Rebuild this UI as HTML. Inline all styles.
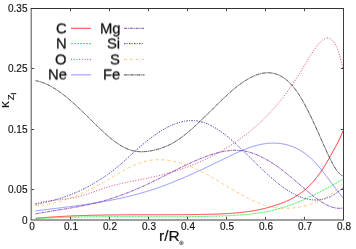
<!DOCTYPE html>
<html><head><meta charset="utf-8"><style>
html,body{margin:0;padding:0;background:#fff}
body{width:356px;height:249px;position:relative;overflow:hidden;font-family:"Liberation Sans",sans-serif;color:#111}
.t{position:absolute;white-space:nowrap;margin:0;padding:0;will-change:transform}
</style></head><body>
<svg width="356" height="249" viewBox="0 0 356 249" style="position:absolute;left:0;top:0">
<path d="M35.6,218.27 L36.6,218.19 L37.6,218.10 L38.6,218.02 L39.6,217.93 L40.6,217.85 L41.6,217.77 L42.6,217.69 L43.6,217.61 L44.6,217.54 L45.6,217.46 L46.6,217.39 L47.6,217.32 L48.6,217.24 L49.6,217.18 L50.6,217.11 L51.6,217.04 L52.6,216.97 L53.6,216.91 L54.6,216.85 L55.6,216.79 L56.6,216.73 L57.6,216.67 L58.6,216.61 L59.6,216.55 L60.6,216.50 L61.6,216.44 L62.6,216.39 L63.6,216.34 L64.6,216.29 L65.6,216.24 L66.6,216.19 L67.6,216.14 L68.6,216.09 L69.6,216.05 L70.6,216.00 L71.6,215.96 L72.6,215.92 L73.6,215.88 L74.6,215.84 L75.6,215.80 L76.6,215.76 L77.6,215.72 L78.6,215.69 L79.6,215.65 L80.6,215.62 L81.6,215.58 L82.6,215.55 L83.6,215.52 L84.6,215.49 L85.6,215.46 L86.6,215.43 L87.6,215.40 L88.6,215.38 L89.6,215.35 L90.6,215.32 L91.6,215.30 L92.6,215.27 L93.6,215.25 L94.6,215.23 L95.6,215.21 L96.6,215.19 L97.6,215.17 L98.6,215.15 L99.6,215.13 L100.6,215.11 L101.6,215.09 L102.6,215.07 L103.6,215.06 L104.6,215.04 L105.6,215.03 L106.6,215.01 L107.6,215.00 L108.6,214.99 L109.6,214.97 L110.6,214.96 L111.6,214.95 L112.6,214.94 L113.6,214.93 L114.6,214.92 L115.6,214.91 L116.6,214.90 L117.6,214.89 L118.6,214.88 L119.6,214.87 L120.6,214.87 L121.6,214.86 L122.6,214.85 L123.6,214.85 L124.6,214.84 L125.6,214.83 L126.6,214.83 L127.6,214.82 L128.6,214.82 L129.6,214.82 L130.6,214.81 L131.6,214.81 L132.6,214.80 L133.6,214.80 L134.6,214.80 L135.6,214.80 L136.6,214.79 L137.6,214.79 L138.6,214.79 L139.6,214.79 L140.6,214.78 L141.6,214.78 L142.6,214.78 L143.6,214.78 L144.6,214.78 L145.6,214.78 L146.6,214.78 L147.6,214.77 L148.6,214.77 L149.6,214.77 L150.6,214.77 L151.6,214.77 L152.6,214.77 L153.6,214.77 L154.6,214.77 L155.6,214.77 L156.6,214.76 L157.6,214.76 L158.6,214.76 L159.6,214.76 L160.6,214.76 L161.6,214.76 L162.6,214.76 L163.6,214.75 L164.6,214.75 L165.6,214.75 L166.6,214.75 L167.6,214.74 L168.6,214.74 L169.6,214.74 L170.6,214.73 L171.6,214.73 L172.6,214.73 L173.6,214.72 L174.6,214.72 L175.6,214.71 L176.6,214.71 L177.6,214.70 L178.6,214.70 L179.6,214.69 L180.6,214.68 L181.6,214.68 L182.6,214.67 L183.6,214.66 L184.6,214.65 L185.6,214.65 L186.6,214.64 L187.6,214.63 L188.6,214.62 L189.6,214.61 L190.6,214.60 L191.6,214.59 L192.6,214.57 L193.6,214.56 L194.6,214.55 L195.6,214.53 L196.6,214.52 L197.6,214.51 L198.6,214.49 L199.6,214.47 L200.6,214.46 L201.6,214.44 L202.6,214.42 L203.6,214.40 L204.6,214.38 L205.6,214.37 L206.6,214.34 L207.6,214.32 L208.6,214.30 L209.6,214.28 L210.6,214.25 L211.6,214.23 L212.6,214.20 L213.6,214.17 L214.6,214.14 L215.6,214.11 L216.6,214.08 L217.6,214.05 L218.6,214.01 L219.6,213.97 L220.6,213.93 L221.6,213.89 L222.6,213.85 L223.6,213.80 L224.6,213.75 L225.6,213.70 L226.6,213.64 L227.6,213.58 L228.6,213.52 L229.6,213.46 L230.6,213.39 L231.6,213.32 L232.6,213.25 L233.6,213.17 L234.6,213.09 L235.6,213.00 L236.6,212.91 L237.6,212.82 L238.6,212.72 L239.6,212.62 L240.6,212.52 L241.6,212.41 L242.6,212.29 L243.6,212.17 L244.6,212.05 L245.6,211.92 L246.6,211.79 L247.6,211.65 L248.6,211.51 L249.6,211.36 L250.6,211.21 L251.6,211.05 L252.6,210.88 L253.6,210.71 L254.6,210.53 L255.6,210.35 L256.6,210.16 L257.6,209.97 L258.6,209.77 L259.6,209.56 L260.6,209.35 L261.6,209.13 L262.6,208.90 L263.6,208.67 L264.6,208.43 L265.6,208.18 L266.6,207.92 L267.6,207.66 L268.6,207.39 L269.6,207.12 L270.6,206.83 L271.6,206.54 L272.6,206.24 L273.6,205.93 L274.6,205.62 L275.6,205.29 L276.6,204.96 L277.6,204.62 L278.6,204.28 L279.6,203.92 L280.6,203.55 L281.6,203.18 L282.6,202.79 L283.6,202.40 L284.6,201.99 L285.6,201.58 L286.6,201.14 L287.6,200.70 L288.6,200.24 L289.6,199.76 L290.6,199.27 L291.6,198.76 L292.6,198.23 L293.6,197.68 L294.6,197.10 L295.6,196.51 L296.6,195.90 L297.6,195.26 L298.6,194.60 L299.6,193.91 L300.6,193.20 L301.6,192.46 L302.6,191.69 L303.6,190.90 L304.6,190.07 L305.6,189.22 L306.6,188.33 L307.6,187.41 L308.6,186.46 L309.6,185.47 L310.6,184.45 L311.6,183.39 L312.6,182.29 L313.6,181.16 L314.6,179.99 L315.6,178.78 L316.6,177.53 L317.6,176.23 L318.6,174.90 L319.6,173.52 L320.6,172.10 L321.6,170.63 L322.6,169.12 L323.6,167.56 L324.6,165.96 L325.6,164.32 L326.6,162.65 L327.6,160.95 L328.6,159.22 L329.6,157.46 L330.6,155.69 L331.6,153.89 L332.6,152.09 L333.6,150.27 L334.6,148.44 L335.6,146.61 L336.6,144.77 L337.6,142.90 L338.6,140.96 L339.6,138.92 L340.6,136.74 L341.6,134.38 L342.6,131.83 L343.0,130.74" fill="none" stroke="#ff1818" stroke-width="1.0" stroke-opacity="0.85"/>
<path d="M35.6,218.84 L36.6,218.77 L37.6,218.71 L38.6,218.65 L39.6,218.58 L40.6,218.52 L41.6,218.46 L42.6,218.40 L43.6,218.35 L44.6,218.29 L45.6,218.24 L46.6,218.18 L47.6,218.13 L48.6,218.08 L49.6,218.03 L50.6,217.98 L51.6,217.93 L52.6,217.88 L53.6,217.84 L54.6,217.79 L55.6,217.75 L56.6,217.71 L57.6,217.67 L58.6,217.63 L59.6,217.59 L60.6,217.55 L61.6,217.51 L62.6,217.48 L63.6,217.44 L64.6,217.41 L65.6,217.37 L66.6,217.34 L67.6,217.31 L68.6,217.28 L69.6,217.25 L70.6,217.22 L71.6,217.20 L72.6,217.17 L73.6,217.14 L74.6,217.12 L75.6,217.09 L76.6,217.07 L77.6,217.05 L78.6,217.03 L79.6,217.00 L80.6,216.98 L81.6,216.97 L82.6,216.95 L83.6,216.93 L84.6,216.91 L85.6,216.90 L86.6,216.88 L87.6,216.86 L88.6,216.85 L89.6,216.84 L90.6,216.82 L91.6,216.81 L92.6,216.80 L93.6,216.79 L94.6,216.78 L95.6,216.77 L96.6,216.76 L97.6,216.75 L98.6,216.74 L99.6,216.73 L100.6,216.73 L101.6,216.72 L102.6,216.71 L103.6,216.71 L104.6,216.70 L105.6,216.70 L106.6,216.69 L107.6,216.69 L108.6,216.69 L109.6,216.68 L110.6,216.68 L111.6,216.68 L112.6,216.68 L113.6,216.67 L114.6,216.67 L115.6,216.67 L116.6,216.67 L117.6,216.67 L118.6,216.67 L119.6,216.67 L120.6,216.67 L121.6,216.67 L122.6,216.68 L123.6,216.68 L124.6,216.68 L125.6,216.68 L126.6,216.68 L127.6,216.69 L128.6,216.69 L129.6,216.69 L130.6,216.69 L131.6,216.70 L132.6,216.70 L133.6,216.70 L134.6,216.71 L135.6,216.71 L136.6,216.71 L137.6,216.72 L138.6,216.72 L139.6,216.72 L140.6,216.73 L141.6,216.73 L142.6,216.73 L143.6,216.74 L144.6,216.74 L145.6,216.75 L146.6,216.75 L147.6,216.75 L148.6,216.76 L149.6,216.76 L150.6,216.76 L151.6,216.77 L152.6,216.77 L153.6,216.77 L154.6,216.77 L155.6,216.78 L156.6,216.78 L157.6,216.78 L158.6,216.78 L159.6,216.78 L160.6,216.79 L161.6,216.79 L162.6,216.79 L163.6,216.79 L164.6,216.79 L165.6,216.79 L166.6,216.79 L167.6,216.79 L168.6,216.79 L169.6,216.79 L170.6,216.79 L171.6,216.78 L172.6,216.78 L173.6,216.78 L174.6,216.78 L175.6,216.77 L176.6,216.77 L177.6,216.76 L178.6,216.76 L179.6,216.76 L180.6,216.75 L181.6,216.74 L182.6,216.74 L183.6,216.73 L184.6,216.72 L185.6,216.71 L186.6,216.70 L187.6,216.70 L188.6,216.69 L189.6,216.68 L190.6,216.66 L191.6,216.65 L192.6,216.64 L193.6,216.63 L194.6,216.61 L195.6,216.60 L196.6,216.58 L197.6,216.57 L198.6,216.55 L199.6,216.54 L200.6,216.52 L201.6,216.50 L202.6,216.48 L203.6,216.46 L204.6,216.44 L205.6,216.42 L206.6,216.40 L207.6,216.37 L208.6,216.35 L209.6,216.32 L210.6,216.30 L211.6,216.27 L212.6,216.24 L213.6,216.21 L214.6,216.19 L215.6,216.16 L216.6,216.12 L217.6,216.09 L218.6,216.06 L219.6,216.03 L220.6,215.99 L221.6,215.95 L222.6,215.92 L223.6,215.88 L224.6,215.84 L225.6,215.80 L226.6,215.76 L227.6,215.72 L228.6,215.67 L229.6,215.63 L230.6,215.58 L231.6,215.53 L232.6,215.48 L233.6,215.42 L234.6,215.37 L235.6,215.31 L236.6,215.25 L237.6,215.18 L238.6,215.12 L239.6,215.05 L240.6,214.98 L241.6,214.90 L242.6,214.82 L243.6,214.74 L244.6,214.66 L245.6,214.57 L246.6,214.48 L247.6,214.38 L248.6,214.28 L249.6,214.18 L250.6,214.07 L251.6,213.95 L252.6,213.84 L253.6,213.72 L254.6,213.59 L255.6,213.46 L256.6,213.32 L257.6,213.18 L258.6,213.03 L259.6,212.88 L260.6,212.72 L261.6,212.56 L262.6,212.39 L263.6,212.22 L264.6,212.04 L265.6,211.85 L266.6,211.66 L267.6,211.46 L268.6,211.26 L269.6,211.05 L270.6,210.83 L271.6,210.60 L272.6,210.37 L273.6,210.13 L274.6,209.89 L275.6,209.63 L276.6,209.37 L277.6,209.10 L278.6,208.83 L279.6,208.55 L280.6,208.26 L281.6,207.96 L282.6,207.66 L283.6,207.35 L284.6,207.03 L285.6,206.70 L286.6,206.37 L287.6,206.04 L288.6,205.69 L289.6,205.34 L290.6,204.98 L291.6,204.62 L292.6,204.25 L293.6,203.87 L294.6,203.49 L295.6,203.10 L296.6,202.71 L297.6,202.31 L298.6,201.90 L299.6,201.49 L300.6,201.07 L301.6,200.64 L302.6,200.21 L303.6,199.78 L304.6,199.34 L305.6,198.89 L306.6,198.44 L307.6,197.98 L308.6,197.52 L309.6,197.05 L310.6,196.58 L311.6,196.10 L312.6,195.61 L313.6,195.13 L314.6,194.63 L315.6,194.14 L316.6,193.63 L317.6,193.13 L318.6,192.62 L319.6,192.11 L320.6,191.59 L321.6,191.07 L322.6,190.55 L323.6,190.02 L324.6,189.49 L325.6,188.96 L326.6,188.42 L327.6,187.89 L328.6,187.35 L329.6,186.81 L330.6,186.26 L331.6,185.72 L332.6,185.17 L333.6,184.62 L334.6,184.08 L335.6,183.53 L336.6,182.98 L337.6,182.42 L338.6,181.87 L339.6,181.32 L340.6,180.77 L341.6,180.22 L342.6,179.66 L343.0,179.44" fill="none" stroke="#10f030" stroke-width="1.0" stroke-opacity="0.9" stroke-dasharray="2 1"/>
<path d="M35.6,203.63 L36.6,203.33 L37.6,203.05 L38.6,202.79 L39.6,202.54 L40.6,202.30 L41.6,202.09 L42.6,201.88 L43.6,201.69 L44.6,201.51 L45.6,201.34 L46.6,201.19 L47.6,201.04 L48.6,200.90 L49.6,200.77 L50.6,200.65 L51.6,200.53 L52.6,200.42 L53.6,200.31 L54.6,200.21 L55.6,200.10 L56.6,200.01 L57.6,199.91 L58.6,199.81 L59.6,199.71 L60.6,199.61 L61.6,199.51 L62.6,199.40 L63.6,199.29 L64.6,199.18 L65.6,199.06 L66.6,198.93 L67.6,198.79 L68.6,198.65 L69.6,198.50 L70.6,198.33 L71.6,198.16 L72.6,197.98 L73.6,197.78 L74.6,197.57 L75.6,197.34 L76.6,197.10 L77.6,196.86 L78.6,196.60 L79.6,196.33 L80.6,196.05 L81.6,195.76 L82.6,195.46 L83.6,195.16 L84.6,194.85 L85.6,194.53 L86.6,194.21 L87.6,193.88 L88.6,193.54 L89.6,193.20 L90.6,192.86 L91.6,192.51 L92.6,192.17 L93.6,191.82 L94.6,191.47 L95.6,191.12 L96.6,190.77 L97.6,190.42 L98.6,190.07 L99.6,189.72 L100.6,189.38 L101.6,189.04 L102.6,188.70 L103.6,188.37 L104.6,188.04 L105.6,187.72 L106.6,187.41 L107.6,187.10 L108.6,186.80 L109.6,186.50 L110.6,186.22 L111.6,185.94 L112.6,185.66 L113.6,185.39 L114.6,185.13 L115.6,184.87 L116.6,184.62 L117.6,184.37 L118.6,184.13 L119.6,183.89 L120.6,183.66 L121.6,183.43 L122.6,183.20 L123.6,182.98 L124.6,182.76 L125.6,182.54 L126.6,182.33 L127.6,182.12 L128.6,181.91 L129.6,181.71 L130.6,181.50 L131.6,181.30 L132.6,181.10 L133.6,180.91 L134.6,180.71 L135.6,180.51 L136.6,180.32 L137.6,180.12 L138.6,179.93 L139.6,179.73 L140.6,179.54 L141.6,179.34 L142.6,179.15 L143.6,178.95 L144.6,178.75 L145.6,178.55 L146.6,178.35 L147.6,178.15 L148.6,177.94 L149.6,177.73 L150.6,177.52 L151.6,177.31 L152.6,177.10 L153.6,176.88 L154.6,176.66 L155.6,176.43 L156.6,176.20 L157.6,175.97 L158.6,175.73 L159.6,175.49 L160.6,175.24 L161.6,174.99 L162.6,174.74 L163.6,174.48 L164.6,174.22 L165.6,173.96 L166.6,173.69 L167.6,173.41 L168.6,173.13 L169.6,172.85 L170.6,172.56 L171.6,172.27 L172.6,171.97 L173.6,171.67 L174.6,171.37 L175.6,171.05 L176.6,170.74 L177.6,170.42 L178.6,170.09 L179.6,169.76 L180.6,169.43 L181.6,169.09 L182.6,168.74 L183.6,168.39 L184.6,168.04 L185.6,167.68 L186.6,167.31 L187.6,166.94 L188.6,166.57 L189.6,166.18 L190.6,165.80 L191.6,165.40 L192.6,165.01 L193.6,164.60 L194.6,164.19 L195.6,163.78 L196.6,163.36 L197.6,162.93 L198.6,162.50 L199.6,162.06 L200.6,161.62 L201.6,161.17 L202.6,160.72 L203.6,160.25 L204.6,159.79 L205.6,159.31 L206.6,158.83 L207.6,158.35 L208.6,157.86 L209.6,157.36 L210.6,156.85 L211.6,156.34 L212.6,155.82 L213.6,155.30 L214.6,154.77 L215.6,154.23 L216.6,153.69 L217.6,153.14 L218.6,152.58 L219.6,152.02 L220.6,151.44 L221.6,150.87 L222.6,150.28 L223.6,149.69 L224.6,149.09 L225.6,148.49 L226.6,147.87 L227.6,147.25 L228.6,146.63 L229.6,145.99 L230.6,145.35 L231.6,144.70 L232.6,144.05 L233.6,143.38 L234.6,142.71 L235.6,142.03 L236.6,141.35 L237.6,140.65 L238.6,139.95 L239.6,139.24 L240.6,138.53 L241.6,137.80 L242.6,137.07 L243.6,136.32 L244.6,135.57 L245.6,134.81 L246.6,134.03 L247.6,133.25 L248.6,132.46 L249.6,131.66 L250.6,130.85 L251.6,130.02 L252.6,129.19 L253.6,128.35 L254.6,127.49 L255.6,126.62 L256.6,125.74 L257.6,124.85 L258.6,123.94 L259.6,123.03 L260.6,122.10 L261.6,121.16 L262.6,120.20 L263.6,119.23 L264.6,118.25 L265.6,117.25 L266.6,116.24 L267.6,115.21 L268.6,114.18 L269.6,113.12 L270.6,112.05 L271.6,110.97 L272.6,109.87 L273.6,108.75 L274.6,107.62 L275.6,106.47 L276.6,105.30 L277.6,104.12 L278.6,102.93 L279.6,101.71 L280.6,100.48 L281.6,99.23 L282.6,97.96 L283.6,96.67 L284.6,95.37 L285.6,94.05 L286.6,92.71 L287.6,91.35 L288.6,89.97 L289.6,88.57 L290.6,87.15 L291.6,85.71 L292.6,84.26 L293.6,82.78 L294.6,81.28 L295.6,79.76 L296.6,78.22 L297.6,76.66 L298.6,75.08 L299.6,73.47 L300.6,71.85 L301.6,70.20 L302.6,68.53 L303.6,66.85 L304.6,65.17 L305.6,63.48 L306.6,61.80 L307.6,60.12 L308.6,58.46 L309.6,56.82 L310.6,55.21 L311.6,53.63 L312.6,52.09 L313.6,50.58 L314.6,49.13 L315.6,47.73 L316.6,46.39 L317.6,45.11 L318.6,43.91 L319.6,42.78 L320.6,41.73 L321.6,40.79 L322.6,39.96 L323.6,39.25 L324.6,38.67 L325.6,38.25 L326.6,37.99 L327.6,37.90 L328.6,38.00 L329.6,38.29 L330.6,38.80 L331.6,39.53 L332.6,40.51 L333.6,41.75 L334.6,43.25 L335.6,45.05 L336.6,47.14 L337.6,49.55 L338.6,52.30 L339.6,55.38 L340.6,58.83 L341.6,62.65 L342.6,66.87 L343.0,68.67" fill="none" stroke="#dc2850" stroke-width="1.0" stroke-opacity="0.9" stroke-dasharray="1 1.7"/>
<path d="M35.6,210.87 L36.6,210.74 L37.6,210.62 L38.6,210.49 L39.6,210.37 L40.6,210.25 L41.6,210.12 L42.6,210.00 L43.6,209.88 L44.6,209.76 L45.6,209.64 L46.6,209.51 L47.6,209.39 L48.6,209.27 L49.6,209.15 L50.6,209.03 L51.6,208.91 L52.6,208.78 L53.6,208.66 L54.6,208.54 L55.6,208.42 L56.6,208.30 L57.6,208.17 L58.6,208.05 L59.6,207.93 L60.6,207.80 L61.6,207.68 L62.6,207.56 L63.6,207.43 L64.6,207.31 L65.6,207.18 L66.6,207.05 L67.6,206.92 L68.6,206.80 L69.6,206.67 L70.6,206.54 L71.6,206.41 L72.6,206.28 L73.6,206.14 L74.6,206.01 L75.6,205.88 L76.6,205.74 L77.6,205.61 L78.6,205.47 L79.6,205.33 L80.6,205.19 L81.6,205.05 L82.6,204.91 L83.6,204.76 L84.6,204.62 L85.6,204.47 L86.6,204.33 L87.6,204.18 L88.6,204.03 L89.6,203.88 L90.6,203.72 L91.6,203.57 L92.6,203.41 L93.6,203.25 L94.6,203.09 L95.6,202.93 L96.6,202.77 L97.6,202.60 L98.6,202.44 L99.6,202.27 L100.6,202.10 L101.6,201.92 L102.6,201.75 L103.6,201.57 L104.6,201.39 L105.6,201.21 L106.6,201.03 L107.6,200.84 L108.6,200.66 L109.6,200.47 L110.6,200.27 L111.6,200.08 L112.6,199.88 L113.6,199.68 L114.6,199.48 L115.6,199.28 L116.6,199.07 L117.6,198.86 L118.6,198.65 L119.6,198.43 L120.6,198.22 L121.6,198.00 L122.6,197.77 L123.6,197.55 L124.6,197.32 L125.6,197.09 L126.6,196.85 L127.6,196.62 L128.6,196.38 L129.6,196.13 L130.6,195.89 L131.6,195.64 L132.6,195.38 L133.6,195.13 L134.6,194.87 L135.6,194.61 L136.6,194.34 L137.6,194.07 L138.6,193.80 L139.6,193.52 L140.6,193.24 L141.6,192.96 L142.6,192.67 L143.6,192.38 L144.6,192.09 L145.6,191.79 L146.6,191.49 L147.6,191.19 L148.6,190.88 L149.6,190.57 L150.6,190.25 L151.6,189.93 L152.6,189.61 L153.6,189.28 L154.6,188.95 L155.6,188.61 L156.6,188.27 L157.6,187.93 L158.6,187.58 L159.6,187.23 L160.6,186.87 L161.6,186.51 L162.6,186.15 L163.6,185.78 L164.6,185.41 L165.6,185.04 L166.6,184.66 L167.6,184.28 L168.6,183.89 L169.6,183.51 L170.6,183.11 L171.6,182.72 L172.6,182.32 L173.6,181.92 L174.6,181.52 L175.6,181.11 L176.6,180.70 L177.6,180.29 L178.6,179.87 L179.6,179.45 L180.6,179.03 L181.6,178.61 L182.6,178.18 L183.6,177.75 L184.6,177.32 L185.6,176.89 L186.6,176.45 L187.6,176.01 L188.6,175.57 L189.6,175.13 L190.6,174.68 L191.6,174.23 L192.6,173.78 L193.6,173.33 L194.6,172.88 L195.6,172.42 L196.6,171.96 L197.6,171.50 L198.6,171.04 L199.6,170.57 L200.6,170.11 L201.6,169.64 L202.6,169.17 L203.6,168.70 L204.6,168.23 L205.6,167.76 L206.6,167.28 L207.6,166.81 L208.6,166.33 L209.6,165.85 L210.6,165.37 L211.6,164.89 L212.6,164.41 L213.6,163.93 L214.6,163.44 L215.6,162.96 L216.6,162.47 L217.6,161.99 L218.6,161.50 L219.6,161.01 L220.6,160.52 L221.6,160.04 L222.6,159.55 L223.6,159.06 L224.6,158.57 L225.6,158.08 L226.6,157.59 L227.6,157.10 L228.6,156.62 L229.6,156.13 L230.6,155.65 L231.6,155.17 L232.6,154.70 L233.6,154.23 L234.6,153.76 L235.6,153.30 L236.6,152.85 L237.6,152.39 L238.6,151.95 L239.6,151.51 L240.6,151.08 L241.6,150.65 L242.6,150.23 L243.6,149.82 L244.6,149.42 L245.6,149.03 L246.6,148.65 L247.6,148.27 L248.6,147.91 L249.6,147.56 L250.6,147.21 L251.6,146.88 L252.6,146.56 L253.6,146.26 L254.6,145.96 L255.6,145.68 L256.6,145.41 L257.6,145.15 L258.6,144.91 L259.6,144.68 L260.6,144.47 L261.6,144.27 L262.6,144.09 L263.6,143.92 L264.6,143.76 L265.6,143.63 L266.6,143.50 L267.6,143.40 L268.6,143.31 L269.6,143.23 L270.6,143.18 L271.6,143.14 L272.6,143.11 L273.6,143.11 L274.6,143.12 L275.6,143.15 L276.6,143.20 L277.6,143.27 L278.6,143.35 L279.6,143.46 L280.6,143.58 L281.6,143.73 L282.6,143.89 L283.6,144.07 L284.6,144.28 L285.6,144.50 L286.6,144.74 L287.6,145.01 L288.6,145.30 L289.6,145.61 L290.6,145.94 L291.6,146.29 L292.6,146.66 L293.6,147.06 L294.6,147.49 L295.6,147.94 L296.6,148.41 L297.6,148.91 L298.6,149.43 L299.6,149.99 L300.6,150.57 L301.6,151.17 L302.6,151.81 L303.6,152.48 L304.6,153.17 L305.6,153.90 L306.6,154.66 L307.6,155.45 L308.6,156.27 L309.6,157.12 L310.6,158.00 L311.6,158.92 L312.6,159.88 L313.6,160.87 L314.6,161.89 L315.6,162.95 L316.6,164.05 L317.6,165.17 L318.6,166.33 L319.6,167.52 L320.6,168.73 L321.6,169.96 L322.6,171.22 L323.6,172.50 L324.6,173.79 L325.6,175.10 L326.6,176.42 L327.6,177.75 L328.6,179.09 L329.6,180.44 L330.6,181.79 L331.6,183.14 L332.6,184.49 L333.6,185.83 L334.6,187.18 L335.6,188.51 L336.6,189.84 L337.6,191.15 L338.6,192.45 L339.6,193.73 L340.6,195.00 L341.6,196.24 L342.6,197.47 L343.0,197.95" fill="none" stroke="#6868ff" stroke-width="0.9" stroke-opacity="0.8"/>
<path d="M35.6,213.81 L36.6,213.63 L37.6,213.45 L38.6,213.27 L39.6,213.10 L40.6,212.93 L41.6,212.76 L42.6,212.59 L43.6,212.42 L44.6,212.25 L45.6,212.08 L46.6,211.92 L47.6,211.76 L48.6,211.59 L49.6,211.43 L50.6,211.27 L51.6,211.11 L52.6,210.95 L53.6,210.79 L54.6,210.63 L55.6,210.47 L56.6,210.32 L57.6,210.16 L58.6,210.00 L59.6,209.84 L60.6,209.68 L61.6,209.52 L62.6,209.36 L63.6,209.20 L64.6,209.03 L65.6,208.87 L66.6,208.70 L67.6,208.54 L68.6,208.37 L69.6,208.20 L70.6,208.03 L71.6,207.86 L72.6,207.69 L73.6,207.51 L74.6,207.34 L75.6,207.16 L76.6,206.98 L77.6,206.79 L78.6,206.60 L79.6,206.42 L80.6,206.22 L81.6,206.03 L82.6,205.83 L83.6,205.63 L84.6,205.43 L85.6,205.22 L86.6,205.01 L87.6,204.80 L88.6,204.58 L89.6,204.36 L90.6,204.14 L91.6,203.91 L92.6,203.68 L93.6,203.44 L94.6,203.20 L95.6,202.96 L96.6,202.71 L97.6,202.46 L98.6,202.20 L99.6,201.94 L100.6,201.67 L101.6,201.40 L102.6,201.12 L103.6,200.84 L104.6,200.56 L105.6,200.27 L106.6,199.97 L107.6,199.67 L108.6,199.37 L109.6,199.06 L110.6,198.75 L111.6,198.43 L112.6,198.11 L113.6,197.79 L114.6,197.46 L115.6,197.12 L116.6,196.78 L117.6,196.44 L118.6,196.09 L119.6,195.74 L120.6,195.38 L121.6,195.02 L122.6,194.66 L123.6,194.29 L124.6,193.92 L125.6,193.54 L126.6,193.16 L127.6,192.77 L128.6,192.38 L129.6,191.98 L130.6,191.59 L131.6,191.18 L132.6,190.77 L133.6,190.36 L134.6,189.95 L135.6,189.53 L136.6,189.10 L137.6,188.67 L138.6,188.24 L139.6,187.80 L140.6,187.36 L141.6,186.92 L142.6,186.47 L143.6,186.02 L144.6,185.56 L145.6,185.10 L146.6,184.63 L147.6,184.16 L148.6,183.69 L149.6,183.21 L150.6,182.73 L151.6,182.24 L152.6,181.76 L153.6,181.27 L154.6,180.77 L155.6,180.28 L156.6,179.78 L157.6,179.28 L158.6,178.78 L159.6,178.27 L160.6,177.77 L161.6,177.26 L162.6,176.75 L163.6,176.25 L164.6,175.74 L165.6,175.23 L166.6,174.72 L167.6,174.20 L168.6,173.69 L169.6,173.18 L170.6,172.67 L171.6,172.16 L172.6,171.66 L173.6,171.15 L174.6,170.64 L175.6,170.14 L176.6,169.63 L177.6,169.13 L178.6,168.63 L179.6,168.13 L180.6,167.64 L181.6,167.15 L182.6,166.66 L183.6,166.17 L184.6,165.69 L185.6,165.21 L186.6,164.73 L187.6,164.26 L188.6,163.79 L189.6,163.33 L190.6,162.87 L191.6,162.41 L192.6,161.96 L193.6,161.51 L194.6,161.07 L195.6,160.64 L196.6,160.21 L197.6,159.78 L198.6,159.37 L199.6,158.95 L200.6,158.55 L201.6,158.15 L202.6,157.76 L203.6,157.37 L204.6,156.99 L205.6,156.62 L206.6,156.26 L207.6,155.90 L208.6,155.56 L209.6,155.22 L210.6,154.89 L211.6,154.56 L212.6,154.25 L213.6,153.94 L214.6,153.65 L215.6,153.36 L216.6,153.09 L217.6,152.82 L218.6,152.57 L219.6,152.32 L220.6,152.09 L221.6,151.87 L222.6,151.66 L223.6,151.46 L224.6,151.28 L225.6,151.11 L226.6,150.96 L227.6,150.82 L228.6,150.69 L229.6,150.58 L230.6,150.49 L231.6,150.41 L232.6,150.35 L233.6,150.31 L234.6,150.28 L235.6,150.27 L236.6,150.28 L237.6,150.31 L238.6,150.35 L239.6,150.42 L240.6,150.50 L241.6,150.61 L242.6,150.73 L243.6,150.88 L244.6,151.05 L245.6,151.24 L246.6,151.45 L247.6,151.69 L248.6,151.95 L249.6,152.23 L250.6,152.53 L251.6,152.85 L252.6,153.19 L253.6,153.55 L254.6,153.93 L255.6,154.33 L256.6,154.74 L257.6,155.17 L258.6,155.62 L259.6,156.08 L260.6,156.56 L261.6,157.05 L262.6,157.56 L263.6,158.08 L264.6,158.61 L265.6,159.15 L266.6,159.71 L267.6,160.27 L268.6,160.85 L269.6,161.45 L270.6,162.05 L271.6,162.67 L272.6,163.30 L273.6,163.94 L274.6,164.60 L275.6,165.27 L276.6,165.95 L277.6,166.65 L278.6,167.36 L279.6,168.08 L280.6,168.81 L281.6,169.56 L282.6,170.32 L283.6,171.10 L284.6,171.88 L285.6,172.68 L286.6,173.48 L287.6,174.29 L288.6,175.12 L289.6,175.95 L290.6,176.78 L291.6,177.63 L292.6,178.47 L293.6,179.33 L294.6,180.18 L295.6,181.04 L296.6,181.91 L297.6,182.77 L298.6,183.64 L299.6,184.50 L300.6,185.37 L301.6,186.23 L302.6,187.09 L303.6,187.95 L304.6,188.81 L305.6,189.66 L306.6,190.51 L307.6,191.35 L308.6,192.18 L309.6,193.01 L310.6,193.83 L311.6,194.64 L312.6,195.45 L313.6,196.24 L314.6,197.01 L315.6,197.78 L316.6,198.53 L317.6,199.26 L318.6,199.97 L319.6,200.66 L320.6,201.34 L321.6,201.99 L322.6,202.61 L323.6,203.21 L324.6,203.79 L325.6,204.34 L326.6,204.85 L327.6,205.34 L328.6,205.80 L329.6,206.22 L330.6,206.60 L331.6,206.96 L332.6,207.27 L333.6,207.54 L334.6,207.78 L335.6,207.97 L336.6,208.12 L337.6,208.23 L338.6,208.29 L339.6,208.30 L340.6,208.27 L341.6,208.18 L342.6,208.05 L343.0,207.98" fill="none" stroke="#7030b0" stroke-width="0.95" stroke-opacity="0.2"/>
<path d="M35.6,213.81 L36.6,213.63 L37.6,213.45 L38.6,213.27 L39.6,213.10 L40.6,212.93 L41.6,212.76 L42.6,212.59 L43.6,212.42 L44.6,212.25 L45.6,212.08 L46.6,211.92 L47.6,211.76 L48.6,211.59 L49.6,211.43 L50.6,211.27 L51.6,211.11 L52.6,210.95 L53.6,210.79 L54.6,210.63 L55.6,210.47 L56.6,210.32 L57.6,210.16 L58.6,210.00 L59.6,209.84 L60.6,209.68 L61.6,209.52 L62.6,209.36 L63.6,209.20 L64.6,209.03 L65.6,208.87 L66.6,208.70 L67.6,208.54 L68.6,208.37 L69.6,208.20 L70.6,208.03 L71.6,207.86 L72.6,207.69 L73.6,207.51 L74.6,207.34 L75.6,207.16 L76.6,206.98 L77.6,206.79 L78.6,206.60 L79.6,206.42 L80.6,206.22 L81.6,206.03 L82.6,205.83 L83.6,205.63 L84.6,205.43 L85.6,205.22 L86.6,205.01 L87.6,204.80 L88.6,204.58 L89.6,204.36 L90.6,204.14 L91.6,203.91 L92.6,203.68 L93.6,203.44 L94.6,203.20 L95.6,202.96 L96.6,202.71 L97.6,202.46 L98.6,202.20 L99.6,201.94 L100.6,201.67 L101.6,201.40 L102.6,201.12 L103.6,200.84 L104.6,200.56 L105.6,200.27 L106.6,199.97 L107.6,199.67 L108.6,199.37 L109.6,199.06 L110.6,198.75 L111.6,198.43 L112.6,198.11 L113.6,197.79 L114.6,197.46 L115.6,197.12 L116.6,196.78 L117.6,196.44 L118.6,196.09 L119.6,195.74 L120.6,195.38 L121.6,195.02 L122.6,194.66 L123.6,194.29 L124.6,193.92 L125.6,193.54 L126.6,193.16 L127.6,192.77 L128.6,192.38 L129.6,191.98 L130.6,191.59 L131.6,191.18 L132.6,190.77 L133.6,190.36 L134.6,189.95 L135.6,189.53 L136.6,189.10 L137.6,188.67 L138.6,188.24 L139.6,187.80 L140.6,187.36 L141.6,186.92 L142.6,186.47 L143.6,186.02 L144.6,185.56 L145.6,185.10 L146.6,184.63 L147.6,184.16 L148.6,183.69 L149.6,183.21 L150.6,182.73 L151.6,182.24 L152.6,181.76 L153.6,181.27 L154.6,180.77 L155.6,180.28 L156.6,179.78 L157.6,179.28 L158.6,178.78 L159.6,178.27 L160.6,177.77 L161.6,177.26 L162.6,176.75 L163.6,176.25 L164.6,175.74 L165.6,175.23 L166.6,174.72 L167.6,174.20 L168.6,173.69 L169.6,173.18 L170.6,172.67 L171.6,172.16 L172.6,171.66 L173.6,171.15 L174.6,170.64 L175.6,170.14 L176.6,169.63 L177.6,169.13 L178.6,168.63 L179.6,168.13 L180.6,167.64 L181.6,167.15 L182.6,166.66 L183.6,166.17 L184.6,165.69 L185.6,165.21 L186.6,164.73 L187.6,164.26 L188.6,163.79 L189.6,163.33 L190.6,162.87 L191.6,162.41 L192.6,161.96 L193.6,161.51 L194.6,161.07 L195.6,160.64 L196.6,160.21 L197.6,159.78 L198.6,159.37 L199.6,158.95 L200.6,158.55 L201.6,158.15 L202.6,157.76 L203.6,157.37 L204.6,156.99 L205.6,156.62 L206.6,156.26 L207.6,155.90 L208.6,155.56 L209.6,155.22 L210.6,154.89 L211.6,154.56 L212.6,154.25 L213.6,153.94 L214.6,153.65 L215.6,153.36 L216.6,153.09 L217.6,152.82 L218.6,152.57 L219.6,152.32 L220.6,152.09 L221.6,151.87 L222.6,151.66 L223.6,151.46 L224.6,151.28 L225.6,151.11 L226.6,150.96 L227.6,150.82 L228.6,150.69 L229.6,150.58 L230.6,150.49 L231.6,150.41 L232.6,150.35 L233.6,150.31 L234.6,150.28 L235.6,150.27 L236.6,150.28 L237.6,150.31 L238.6,150.35 L239.6,150.42 L240.6,150.50 L241.6,150.61 L242.6,150.73 L243.6,150.88 L244.6,151.05 L245.6,151.24 L246.6,151.45 L247.6,151.69 L248.6,151.95 L249.6,152.23 L250.6,152.53 L251.6,152.85 L252.6,153.19 L253.6,153.55 L254.6,153.93 L255.6,154.33 L256.6,154.74 L257.6,155.17 L258.6,155.62 L259.6,156.08 L260.6,156.56 L261.6,157.05 L262.6,157.56 L263.6,158.08 L264.6,158.61 L265.6,159.15 L266.6,159.71 L267.6,160.27 L268.6,160.85 L269.6,161.45 L270.6,162.05 L271.6,162.67 L272.6,163.30 L273.6,163.94 L274.6,164.60 L275.6,165.27 L276.6,165.95 L277.6,166.65 L278.6,167.36 L279.6,168.08 L280.6,168.81 L281.6,169.56 L282.6,170.32 L283.6,171.10 L284.6,171.88 L285.6,172.68 L286.6,173.48 L287.6,174.29 L288.6,175.12 L289.6,175.95 L290.6,176.78 L291.6,177.63 L292.6,178.47 L293.6,179.33 L294.6,180.18 L295.6,181.04 L296.6,181.91 L297.6,182.77 L298.6,183.64 L299.6,184.50 L300.6,185.37 L301.6,186.23 L302.6,187.09 L303.6,187.95 L304.6,188.81 L305.6,189.66 L306.6,190.51 L307.6,191.35 L308.6,192.18 L309.6,193.01 L310.6,193.83 L311.6,194.64 L312.6,195.45 L313.6,196.24 L314.6,197.01 L315.6,197.78 L316.6,198.53 L317.6,199.26 L318.6,199.97 L319.6,200.66 L320.6,201.34 L321.6,201.99 L322.6,202.61 L323.6,203.21 L324.6,203.79 L325.6,204.34 L326.6,204.85 L327.6,205.34 L328.6,205.80 L329.6,206.22 L330.6,206.60 L331.6,206.96 L332.6,207.27 L333.6,207.54 L334.6,207.78 L335.6,207.97 L336.6,208.12 L337.6,208.23 L338.6,208.29 L339.6,208.30 L340.6,208.27 L341.6,208.18 L342.6,208.05 L343.0,207.98" fill="none" stroke="#7030b0" stroke-width="0.95" stroke-opacity="0.85" stroke-dasharray="3 1 0.8 1"/>
<path d="M35.6,204.23 L36.6,204.06 L37.6,203.87 L38.6,203.69 L39.6,203.50 L40.6,203.30 L41.6,203.10 L42.6,202.89 L43.6,202.68 L44.6,202.46 L45.6,202.24 L46.6,202.01 L47.6,201.78 L48.6,201.54 L49.6,201.29 L50.6,201.04 L51.6,200.78 L52.6,200.52 L53.6,200.25 L54.6,199.98 L55.6,199.69 L56.6,199.41 L57.6,199.11 L58.6,198.81 L59.6,198.50 L60.6,198.19 L61.6,197.87 L62.6,197.54 L63.6,197.21 L64.6,196.87 L65.6,196.52 L66.6,196.16 L67.6,195.80 L68.6,195.43 L69.6,195.05 L70.6,194.67 L71.6,194.28 L72.6,193.88 L73.6,193.47 L74.6,193.06 L75.6,192.63 L76.6,192.20 L77.6,191.76 L78.6,191.32 L79.6,190.86 L80.6,190.40 L81.6,189.93 L82.6,189.45 L83.6,188.96 L84.6,188.46 L85.6,187.95 L86.6,187.44 L87.6,186.92 L88.6,186.38 L89.6,185.84 L90.6,185.29 L91.6,184.73 L92.6,184.17 L93.6,183.59 L94.6,183.00 L95.6,182.40 L96.6,181.80 L97.6,181.18 L98.6,180.56 L99.6,179.92 L100.6,179.28 L101.6,178.62 L102.6,177.96 L103.6,177.28 L104.6,176.60 L105.6,175.91 L106.6,175.20 L107.6,174.49 L108.6,173.76 L109.6,173.02 L110.6,172.28 L111.6,171.52 L112.6,170.75 L113.6,169.97 L114.6,169.18 L115.6,168.38 L116.6,167.57 L117.6,166.75 L118.6,165.92 L119.6,165.07 L120.6,164.22 L121.6,163.35 L122.6,162.47 L123.6,161.59 L124.6,160.69 L125.6,159.79 L126.6,158.89 L127.6,157.98 L128.6,157.06 L129.6,156.15 L130.6,155.23 L131.6,154.32 L132.6,153.40 L133.6,152.49 L134.6,151.58 L135.6,150.68 L136.6,149.78 L137.6,148.89 L138.6,148.01 L139.6,147.14 L140.6,146.27 L141.6,145.42 L142.6,144.57 L143.6,143.73 L144.6,142.90 L145.6,142.08 L146.6,141.27 L147.6,140.47 L148.6,139.68 L149.6,138.90 L150.6,138.14 L151.6,137.38 L152.6,136.64 L153.6,135.91 L154.6,135.20 L155.6,134.49 L156.6,133.80 L157.6,133.13 L158.6,132.46 L159.6,131.81 L160.6,131.18 L161.6,130.56 L162.6,129.96 L163.6,129.37 L164.6,128.80 L165.6,128.24 L166.6,127.71 L167.6,127.18 L168.6,126.68 L169.6,126.19 L170.6,125.73 L171.6,125.27 L172.6,124.84 L173.6,124.43 L174.6,124.04 L175.6,123.66 L176.6,123.31 L177.6,122.97 L178.6,122.66 L179.6,122.37 L180.6,122.10 L181.6,121.85 L182.6,121.62 L183.6,121.41 L184.6,121.23 L185.6,121.07 L186.6,120.93 L187.6,120.82 L188.6,120.73 L189.6,120.66 L190.6,120.62 L191.6,120.60 L192.6,120.61 L193.6,120.65 L194.6,120.71 L195.6,120.79 L196.6,120.90 L197.6,121.04 L198.6,121.21 L199.6,121.40 L200.6,121.62 L201.6,121.87 L202.6,122.15 L203.6,122.45 L204.6,122.79 L205.6,123.15 L206.6,123.53 L207.6,123.95 L208.6,124.38 L209.6,124.84 L210.6,125.33 L211.6,125.84 L212.6,126.37 L213.6,126.93 L214.6,127.50 L215.6,128.10 L216.6,128.72 L217.6,129.36 L218.6,130.01 L219.6,130.69 L220.6,131.39 L221.6,132.10 L222.6,132.83 L223.6,133.58 L224.6,134.34 L225.6,135.12 L226.6,135.91 L227.6,136.72 L228.6,137.55 L229.6,138.38 L230.6,139.23 L231.6,140.09 L232.6,140.96 L233.6,141.84 L234.6,142.74 L235.6,143.64 L236.6,144.55 L237.6,145.48 L238.6,146.41 L239.6,147.34 L240.6,148.29 L241.6,149.24 L242.6,150.19 L243.6,151.16 L244.6,152.12 L245.6,153.09 L246.6,154.07 L247.6,155.05 L248.6,156.03 L249.6,157.01 L250.6,157.99 L251.6,158.98 L252.6,159.96 L253.6,160.95 L254.6,161.93 L255.6,162.91 L256.6,163.89 L257.6,164.87 L258.6,165.85 L259.6,166.82 L260.6,167.78 L261.6,168.74 L262.6,169.70 L263.6,170.65 L264.6,171.59 L265.6,172.53 L266.6,173.46 L267.6,174.38 L268.6,175.29 L269.6,176.19 L270.6,177.08 L271.6,177.97 L272.6,178.84 L273.6,179.70 L274.6,180.54 L275.6,181.38 L276.6,182.20 L277.6,183.01 L278.6,183.80 L279.6,184.58 L280.6,185.35 L281.6,186.10 L282.6,186.84 L283.6,187.56 L284.6,188.26 L285.6,188.95 L286.6,189.62 L287.6,190.28 L288.6,190.92 L289.6,191.53 L290.6,192.13 L291.6,192.72 L292.6,193.28 L293.6,193.82 L294.6,194.34 L295.6,194.85 L296.6,195.33 L297.6,195.79 L298.6,196.23 L299.6,196.64 L300.6,197.04 L301.6,197.41 L302.6,197.76 L303.6,198.08 L304.6,198.38 L305.6,198.66 L306.6,198.91 L307.6,199.13 L308.6,199.33 L309.6,199.51 L310.6,199.66 L311.6,199.78 L312.6,199.87 L313.6,199.94 L314.6,199.98 L315.6,199.99 L316.6,199.97 L317.6,199.92 L318.6,199.84 L319.6,199.73 L320.6,199.59 L321.6,199.42 L322.6,199.22 L323.6,198.99 L324.6,198.73 L325.6,198.43 L326.6,198.10 L327.6,197.74 L328.6,197.34 L329.6,196.91 L330.6,196.45 L331.6,195.95 L332.6,195.41 L333.6,194.84 L334.6,194.23 L335.6,193.59 L336.6,192.91 L337.6,192.19 L338.6,191.44 L339.6,190.65 L340.6,189.81 L341.6,188.94 L342.6,188.03 L343.0,187.66" fill="none" stroke="#2424a0" stroke-width="0.95" stroke-opacity="1.0" stroke-dasharray="1.5 1.2 0.9 1.4"/>
<path d="M35.6,205.76 L36.6,205.69 L37.6,205.61 L38.6,205.51 L39.6,205.41 L40.6,205.30 L41.6,205.18 L42.6,205.05 L43.6,204.91 L44.6,204.76 L45.6,204.60 L46.6,204.43 L47.6,204.26 L48.6,204.07 L49.6,203.87 L50.6,203.67 L51.6,203.46 L52.6,203.23 L53.6,203.00 L54.6,202.76 L55.6,202.52 L56.6,202.26 L57.6,201.99 L58.6,201.72 L59.6,201.44 L60.6,201.15 L61.6,200.85 L62.6,200.55 L63.6,200.24 L64.6,199.91 L65.6,199.59 L66.6,199.25 L67.6,198.91 L68.6,198.56 L69.6,198.20 L70.6,197.83 L71.6,197.46 L72.6,197.08 L73.6,196.69 L74.6,196.30 L75.6,195.90 L76.6,195.49 L77.6,195.07 L78.6,194.65 L79.6,194.23 L80.6,193.79 L81.6,193.35 L82.6,192.90 L83.6,192.45 L84.6,191.99 L85.6,191.53 L86.6,191.06 L87.6,190.58 L88.6,190.10 L89.6,189.61 L90.6,189.11 L91.6,188.61 L92.6,188.11 L93.6,187.60 L94.6,187.08 L95.6,186.56 L96.6,186.04 L97.6,185.51 L98.6,184.97 L99.6,184.43 L100.6,183.88 L101.6,183.33 L102.6,182.78 L103.6,182.22 L104.6,181.66 L105.6,181.10 L106.6,180.53 L107.6,179.96 L108.6,179.39 L109.6,178.81 L110.6,178.23 L111.6,177.65 L112.6,177.07 L113.6,176.49 L114.6,175.90 L115.6,175.32 L116.6,174.73 L117.6,174.14 L118.6,173.55 L119.6,172.97 L120.6,172.38 L121.6,171.80 L122.6,171.22 L123.6,170.64 L124.6,170.08 L125.6,169.51 L126.6,168.96 L127.6,168.42 L128.6,167.88 L129.6,167.36 L130.6,166.85 L131.6,166.35 L132.6,165.87 L133.6,165.40 L134.6,164.95 L135.6,164.52 L136.6,164.10 L137.6,163.70 L138.6,163.33 L139.6,162.97 L140.6,162.63 L141.6,162.32 L142.6,162.02 L143.6,161.74 L144.6,161.48 L145.6,161.24 L146.6,161.01 L147.6,160.81 L148.6,160.62 L149.6,160.45 L150.6,160.30 L151.6,160.17 L152.6,160.06 L153.6,159.96 L154.6,159.88 L155.6,159.81 L156.6,159.76 L157.6,159.73 L158.6,159.72 L159.6,159.72 L160.6,159.74 L161.6,159.77 L162.6,159.82 L163.6,159.88 L164.6,159.96 L165.6,160.05 L166.6,160.16 L167.6,160.28 L168.6,160.42 L169.6,160.57 L170.6,160.74 L171.6,160.91 L172.6,161.11 L173.6,161.31 L174.6,161.53 L175.6,161.76 L176.6,162.01 L177.6,162.27 L178.6,162.54 L179.6,162.82 L180.6,163.11 L181.6,163.42 L182.6,163.74 L183.6,164.07 L184.6,164.41 L185.6,164.76 L186.6,165.12 L187.6,165.50 L188.6,165.88 L189.6,166.28 L190.6,166.68 L191.6,167.10 L192.6,167.52 L193.6,167.96 L194.6,168.40 L195.6,168.85 L196.6,169.31 L197.6,169.79 L198.6,170.27 L199.6,170.75 L200.6,171.25 L201.6,171.75 L202.6,172.27 L203.6,172.79 L204.6,173.31 L205.6,173.85 L206.6,174.39 L207.6,174.93 L208.6,175.49 L209.6,176.04 L210.6,176.61 L211.6,177.18 L212.6,177.75 L213.6,178.32 L214.6,178.90 L215.6,179.49 L216.6,180.08 L217.6,180.66 L218.6,181.26 L219.6,181.85 L220.6,182.45 L221.6,183.04 L222.6,183.64 L223.6,184.24 L224.6,184.84 L225.6,185.44 L226.6,186.04 L227.6,186.63 L228.6,187.23 L229.6,187.82 L230.6,188.42 L231.6,189.01 L232.6,189.60 L233.6,190.18 L234.6,190.77 L235.6,191.35 L236.6,191.92 L237.6,192.49 L238.6,193.06 L239.6,193.62 L240.6,194.17 L241.6,194.73 L242.6,195.27 L243.6,195.81 L244.6,196.34 L245.6,196.86 L246.6,197.38 L247.6,197.89 L248.6,198.39 L249.6,198.88 L250.6,199.37 L251.6,199.84 L252.6,200.31 L253.6,200.77 L254.6,201.21 L255.6,201.65 L256.6,202.07 L257.6,202.48 L258.6,202.89 L259.6,203.27 L260.6,203.65 L261.6,204.02 L262.6,204.37 L263.6,204.71 L264.6,205.03 L265.6,205.34 L266.6,205.64 L267.6,205.92 L268.6,206.19 L269.6,206.44 L270.6,206.68 L271.6,206.90 L272.6,207.10 L273.6,207.29 L274.6,207.46 L275.6,207.62 L276.6,207.76 L277.6,207.88 L278.6,208.00 L279.6,208.09 L280.6,208.17 L281.6,208.24 L282.6,208.29 L283.6,208.32 L284.6,208.35 L285.6,208.35 L286.6,208.35 L287.6,208.32 L288.6,208.29 L289.6,208.24 L290.6,208.17 L291.6,208.10 L292.6,208.00 L293.6,207.90 L294.6,207.78 L295.6,207.65 L296.6,207.50 L297.6,207.34 L298.6,207.17 L299.6,206.99 L300.6,206.79 L301.6,206.58 L302.6,206.36 L303.6,206.12 L304.6,205.87 L305.6,205.61 L306.6,205.34 L307.6,205.06 L308.6,204.76 L309.6,204.45 L310.6,204.13 L311.6,203.80 L312.6,203.45 L313.6,203.09 L314.6,202.72 L315.6,202.33 L316.6,201.93 L317.6,201.51 L318.6,201.08 L319.6,200.63 L320.6,200.16 L321.6,199.67 L322.6,199.16 L323.6,198.63 L324.6,198.08 L325.6,197.51 L326.6,196.92 L327.6,196.31 L328.6,195.67 L329.6,195.01 L330.6,194.32 L331.6,193.61 L332.6,192.87 L333.6,192.10 L334.6,191.31 L335.6,190.49 L336.6,189.64 L337.6,188.76 L338.6,187.85 L339.6,186.91 L340.6,185.93 L341.6,184.93 L342.6,183.89 L343.0,183.47" fill="none" stroke="#ffa826" stroke-width="0.95" stroke-opacity="0.95" stroke-dasharray="1.1 0.7 1.1 3.0"/>
<path d="M35.5,80.68 L36.5,80.86 L37.5,81.07 L38.5,81.31 L39.5,81.57 L40.5,81.87 L41.5,82.18 L42.5,82.53 L43.5,82.89 L44.5,83.29 L45.5,83.70 L46.5,84.15 L47.5,84.61 L48.5,85.10 L49.5,85.60 L50.5,86.13 L51.5,86.69 L52.5,87.26 L53.5,87.85 L54.5,88.46 L55.5,89.09 L56.5,89.74 L57.5,90.41 L58.5,91.10 L59.5,91.80 L60.5,92.52 L61.5,93.26 L62.5,94.01 L63.5,94.78 L64.5,95.56 L65.5,96.35 L66.5,97.17 L67.5,97.99 L68.5,98.83 L69.5,99.67 L70.5,100.54 L71.5,101.41 L72.5,102.29 L73.5,103.19 L74.5,104.09 L75.5,105.00 L76.5,105.92 L77.5,106.85 L78.5,107.79 L79.5,108.74 L80.5,109.69 L81.5,110.65 L82.5,111.62 L83.5,112.59 L84.5,113.56 L85.5,114.55 L86.5,115.53 L87.5,116.52 L88.5,117.51 L89.5,118.50 L90.5,119.49 L91.5,120.48 L92.5,121.47 L93.5,122.46 L94.5,123.45 L95.5,124.43 L96.5,125.41 L97.5,126.38 L98.5,127.35 L99.5,128.30 L100.5,129.26 L101.5,130.20 L102.5,131.13 L103.5,132.06 L104.5,132.97 L105.5,133.87 L106.5,134.76 L107.5,135.63 L108.5,136.49 L109.5,137.34 L110.5,138.16 L111.5,138.97 L112.5,139.77 L113.5,140.54 L114.5,141.30 L115.5,142.03 L116.5,142.75 L117.5,143.44 L118.5,144.11 L119.5,144.76 L120.5,145.38 L121.5,145.97 L122.5,146.54 L123.5,147.09 L124.5,147.60 L125.5,148.09 L126.5,148.55 L127.5,148.97 L128.5,149.37 L129.5,149.73 L130.5,150.07 L131.5,150.36 L132.5,150.63 L133.5,150.87 L134.5,151.07 L135.5,151.25 L136.5,151.39 L137.5,151.51 L138.5,151.61 L139.5,151.67 L140.5,151.71 L141.5,151.73 L142.5,151.72 L143.5,151.69 L144.5,151.63 L145.5,151.56 L146.5,151.46 L147.5,151.35 L148.5,151.21 L149.5,151.06 L150.5,150.89 L151.5,150.70 L152.5,150.50 L153.5,150.28 L154.5,150.05 L155.5,149.81 L156.5,149.55 L157.5,149.28 L158.5,148.99 L159.5,148.69 L160.5,148.38 L161.5,148.05 L162.5,147.70 L163.5,147.34 L164.5,146.95 L165.5,146.55 L166.5,146.13 L167.5,145.70 L168.5,145.24 L169.5,144.76 L170.5,144.26 L171.5,143.74 L172.5,143.19 L173.5,142.62 L174.5,142.04 L175.5,141.42 L176.5,140.79 L177.5,140.14 L178.5,139.47 L179.5,138.78 L180.5,138.07 L181.5,137.34 L182.5,136.60 L183.5,135.84 L184.5,135.06 L185.5,134.27 L186.5,133.46 L187.5,132.64 L188.5,131.80 L189.5,130.95 L190.5,130.09 L191.5,129.21 L192.5,128.33 L193.5,127.43 L194.5,126.52 L195.5,125.61 L196.5,124.68 L197.5,123.75 L198.5,122.80 L199.5,121.85 L200.5,120.90 L201.5,119.94 L202.5,118.97 L203.5,117.99 L204.5,117.02 L205.5,116.03 L206.5,115.05 L207.5,114.06 L208.5,113.07 L209.5,112.08 L210.5,111.09 L211.5,110.10 L212.5,109.11 L213.5,108.12 L214.5,107.13 L215.5,106.14 L216.5,105.16 L217.5,104.17 L218.5,103.20 L219.5,102.22 L220.5,101.26 L221.5,100.29 L222.5,99.34 L223.5,98.39 L224.5,97.45 L225.5,96.52 L226.5,95.59 L227.5,94.68 L228.5,93.77 L229.5,92.88 L230.5,91.99 L231.5,91.12 L232.5,90.26 L233.5,89.42 L234.5,88.59 L235.5,87.77 L236.5,86.97 L237.5,86.18 L238.5,85.41 L239.5,84.65 L240.5,83.91 L241.5,83.19 L242.5,82.49 L243.5,81.81 L244.5,81.15 L245.5,80.51 L246.5,79.88 L247.5,79.28 L248.5,78.71 L249.5,78.15 L250.5,77.62 L251.5,77.11 L252.5,76.63 L253.5,76.17 L254.5,75.74 L255.5,75.33 L256.5,74.95 L257.5,74.60 L258.5,74.28 L259.5,73.99 L260.5,73.72 L261.5,73.49 L262.5,73.28 L263.5,73.11 L264.5,72.97 L265.5,72.87 L266.5,72.80 L267.5,72.76 L268.5,72.76 L269.5,72.80 L270.5,72.87 L271.5,72.99 L272.5,73.14 L273.5,73.34 L274.5,73.57 L275.5,73.85 L276.5,74.17 L277.5,74.54 L278.5,74.95 L279.5,75.40 L280.5,75.91 L281.5,76.46 L282.5,77.06 L283.5,77.70 L284.5,78.40 L285.5,79.15 L286.5,79.95 L287.5,80.80 L288.5,81.71 L289.5,82.67 L290.5,83.68 L291.5,84.76 L292.5,85.88 L293.5,87.07 L294.5,88.32 L295.5,89.62 L296.5,90.99 L297.5,92.41 L298.5,93.90 L299.5,95.45 L300.5,97.06 L301.5,98.73 L302.5,100.46 L303.5,102.23 L304.5,104.06 L305.5,105.93 L306.5,107.85 L307.5,109.80 L308.5,111.80 L309.5,113.83 L310.5,115.89 L311.5,117.99 L312.5,120.11 L313.5,122.25 L314.5,124.42 L315.5,126.61 L316.5,128.82 L317.5,131.03 L318.5,133.26 L319.5,135.50 L320.5,137.74 L321.5,139.99 L322.5,142.24 L323.5,144.48 L324.5,146.72 L325.5,148.95 L326.5,151.16 L327.5,153.34 L328.5,155.49 L329.5,157.59 L330.5,159.63 L331.5,161.60 L332.5,163.49 L333.5,165.29 L334.5,166.99 L335.5,168.58 L336.5,170.05 L337.5,171.39 L338.5,172.59 L339.5,173.64 L340.5,174.52 L341.5,175.24 L342.5,175.77 L343.0,175.96" fill="none" stroke="#303030" stroke-width="0.85" stroke-opacity="0.4"/>
<path d="M35.5,80.68 L36.5,80.86 L37.5,81.07 L38.5,81.31 L39.5,81.57 L40.5,81.87 L41.5,82.18 L42.5,82.53 L43.5,82.89 L44.5,83.29 L45.5,83.70 L46.5,84.15 L47.5,84.61 L48.5,85.10 L49.5,85.60 L50.5,86.13 L51.5,86.69 L52.5,87.26 L53.5,87.85 L54.5,88.46 L55.5,89.09 L56.5,89.74 L57.5,90.41 L58.5,91.10 L59.5,91.80 L60.5,92.52 L61.5,93.26 L62.5,94.01 L63.5,94.78 L64.5,95.56 L65.5,96.35 L66.5,97.17 L67.5,97.99 L68.5,98.83 L69.5,99.67 L70.5,100.54 L71.5,101.41 L72.5,102.29 L73.5,103.19 L74.5,104.09 L75.5,105.00 L76.5,105.92 L77.5,106.85 L78.5,107.79 L79.5,108.74 L80.5,109.69 L81.5,110.65 L82.5,111.62 L83.5,112.59 L84.5,113.56 L85.5,114.55 L86.5,115.53 L87.5,116.52 L88.5,117.51 L89.5,118.50 L90.5,119.49 L91.5,120.48 L92.5,121.47 L93.5,122.46 L94.5,123.45 L95.5,124.43 L96.5,125.41 L97.5,126.38 L98.5,127.35 L99.5,128.30 L100.5,129.26 L101.5,130.20 L102.5,131.13 L103.5,132.06 L104.5,132.97 L105.5,133.87 L106.5,134.76 L107.5,135.63 L108.5,136.49 L109.5,137.34 L110.5,138.16 L111.5,138.97 L112.5,139.77 L113.5,140.54 L114.5,141.30 L115.5,142.03 L116.5,142.75 L117.5,143.44 L118.5,144.11 L119.5,144.76 L120.5,145.38 L121.5,145.97 L122.5,146.54 L123.5,147.09 L124.5,147.60 L125.5,148.09 L126.5,148.55 L127.5,148.97 L128.5,149.37 L129.5,149.73 L130.5,150.07 L131.5,150.36 L132.5,150.63 L133.5,150.87 L134.5,151.07 L135.5,151.25 L136.5,151.39 L137.5,151.51 L138.5,151.61 L139.5,151.67 L140.5,151.71 L141.5,151.73 L142.5,151.72 L143.5,151.69 L144.5,151.63 L145.5,151.56 L146.5,151.46 L147.5,151.35 L148.5,151.21 L149.5,151.06 L150.5,150.89 L151.5,150.70 L152.5,150.50 L153.5,150.28 L154.5,150.05 L155.5,149.81 L156.5,149.55 L157.5,149.28 L158.5,148.99 L159.5,148.69 L160.5,148.38 L161.5,148.05 L162.5,147.70 L163.5,147.34 L164.5,146.95 L165.5,146.55 L166.5,146.13 L167.5,145.70 L168.5,145.24 L169.5,144.76 L170.5,144.26 L171.5,143.74 L172.5,143.19 L173.5,142.62 L174.5,142.04 L175.5,141.42 L176.5,140.79 L177.5,140.14 L178.5,139.47 L179.5,138.78 L180.5,138.07 L181.5,137.34 L182.5,136.60 L183.5,135.84 L184.5,135.06 L185.5,134.27 L186.5,133.46 L187.5,132.64 L188.5,131.80 L189.5,130.95 L190.5,130.09 L191.5,129.21 L192.5,128.33 L193.5,127.43 L194.5,126.52 L195.5,125.61 L196.5,124.68 L197.5,123.75 L198.5,122.80 L199.5,121.85 L200.5,120.90 L201.5,119.94 L202.5,118.97 L203.5,117.99 L204.5,117.02 L205.5,116.03 L206.5,115.05 L207.5,114.06 L208.5,113.07 L209.5,112.08 L210.5,111.09 L211.5,110.10 L212.5,109.11 L213.5,108.12 L214.5,107.13 L215.5,106.14 L216.5,105.16 L217.5,104.17 L218.5,103.20 L219.5,102.22 L220.5,101.26 L221.5,100.29 L222.5,99.34 L223.5,98.39 L224.5,97.45 L225.5,96.52 L226.5,95.59 L227.5,94.68 L228.5,93.77 L229.5,92.88 L230.5,91.99 L231.5,91.12 L232.5,90.26 L233.5,89.42 L234.5,88.59 L235.5,87.77 L236.5,86.97 L237.5,86.18 L238.5,85.41 L239.5,84.65 L240.5,83.91 L241.5,83.19 L242.5,82.49 L243.5,81.81 L244.5,81.15 L245.5,80.51 L246.5,79.88 L247.5,79.28 L248.5,78.71 L249.5,78.15 L250.5,77.62 L251.5,77.11 L252.5,76.63 L253.5,76.17 L254.5,75.74 L255.5,75.33 L256.5,74.95 L257.5,74.60 L258.5,74.28 L259.5,73.99 L260.5,73.72 L261.5,73.49 L262.5,73.28 L263.5,73.11 L264.5,72.97 L265.5,72.87 L266.5,72.80 L267.5,72.76 L268.5,72.76 L269.5,72.80 L270.5,72.87 L271.5,72.99 L272.5,73.14 L273.5,73.34 L274.5,73.57 L275.5,73.85 L276.5,74.17 L277.5,74.54 L278.5,74.95 L279.5,75.40 L280.5,75.91 L281.5,76.46 L282.5,77.06 L283.5,77.70 L284.5,78.40 L285.5,79.15 L286.5,79.95 L287.5,80.80 L288.5,81.71 L289.5,82.67 L290.5,83.68 L291.5,84.76 L292.5,85.88 L293.5,87.07 L294.5,88.32 L295.5,89.62 L296.5,90.99 L297.5,92.41 L298.5,93.90 L299.5,95.45 L300.5,97.06 L301.5,98.73 L302.5,100.46 L303.5,102.23 L304.5,104.06 L305.5,105.93 L306.5,107.85 L307.5,109.80 L308.5,111.80 L309.5,113.83 L310.5,115.89 L311.5,117.99 L312.5,120.11 L313.5,122.25 L314.5,124.42 L315.5,126.61 L316.5,128.82 L317.5,131.03 L318.5,133.26 L319.5,135.50 L320.5,137.74 L321.5,139.99 L322.5,142.24 L323.5,144.48 L324.5,146.72 L325.5,148.95 L326.5,151.16 L327.5,153.34 L328.5,155.49 L329.5,157.59 L330.5,159.63 L331.5,161.60 L332.5,163.49 L333.5,165.29 L334.5,166.99 L335.5,168.58 L336.5,170.05 L337.5,171.39 L338.5,172.59 L339.5,173.64 L340.5,174.52 L341.5,175.24 L342.5,175.77 L343.0,175.96" fill="none" stroke="#303030" stroke-width="0.85" stroke-opacity="0.8" stroke-dasharray="3.5 1 0.8 1"/>
<path d="M71,28.3 L91,28.3" fill="none" stroke="#ff1818" stroke-width="1.0" stroke-opacity="0.85"/>
<path d="M71,43.6 L91,43.6" fill="none" stroke="#10f030" stroke-width="1.0" stroke-opacity="0.9" stroke-dasharray="2 1"/>
<path d="M71,59.4 L91,59.4" fill="none" stroke="#dc2850" stroke-width="1.0" stroke-opacity="0.9" stroke-dasharray="1 1.7"/>
<path d="M71,74.9 L91,74.9" fill="none" stroke="#6868ff" stroke-width="0.9" stroke-opacity="0.8"/>
<path d="M124,28.3 L144,28.3" fill="none" stroke="#7030b0" stroke-width="0.95" stroke-opacity="0.2"/>
<path d="M124,28.3 L144,28.3" fill="none" stroke="#7030b0" stroke-width="0.95" stroke-opacity="0.85" stroke-dasharray="3 1 0.8 1"/>
<path d="M124,43.6 L144,43.6" fill="none" stroke="#2424a0" stroke-width="0.95" stroke-opacity="1.0" stroke-dasharray="1.5 1.2 0.9 1.4"/>
<path d="M124,59.4 L144,59.4" fill="none" stroke="#ffa826" stroke-width="0.95" stroke-opacity="0.95" stroke-dasharray="1.1 0.7 1.1 3.0"/>
<path d="M124,74.9 L144.5,74.9" fill="none" stroke="#303030" stroke-width="0.85" stroke-opacity="0.4"/>
<path d="M124,74.9 L144.5,74.9" fill="none" stroke="#303030" stroke-width="0.85" stroke-opacity="0.8" stroke-dasharray="3.5 1 0.8 1"/>
<path d="M31.2,8.0 V220.0" stroke="#505050" stroke-width="1" fill="none"/>
<path d="M30.7,8.5 H344.0" stroke="#333" stroke-width="1" fill="none"/>
<path d="M30.7,219.9 H344.0" stroke="#404040" stroke-width="1.05" fill="none"/>
<path d="M343.5,8.0 V220.0" stroke="#3c3c3c" stroke-width="1" fill="none"/>
<path d="M70.5,219.5 v-2.7 M70.5,8.5 v2.7 M109.5,219.5 v-2.7 M109.5,8.5 v2.7 M148.5,219.5 v-2.7 M148.5,8.5 v2.7 M187.5,219.5 v-2.7 M187.5,8.5 v2.7 M226.5,219.5 v-2.7 M226.5,8.5 v2.7 M265.5,219.5 v-2.7 M265.5,8.5 v2.7 M304.5,219.5 v-2.7 M304.5,8.5 v2.7 M31.5,189.5 h2.7 M343.5,189.5 h-2.7 M31.5,129.5 h2.7 M343.5,129.5 h-2.7 M31.5,68.5 h2.7 M343.5,68.5 h-2.7" fill="none" stroke="#444" stroke-width="1"/>
<circle cx="181.4" cy="242.9" r="1.9" fill="#ddd" stroke="#777" stroke-width="0.8"/><circle cx="181.4" cy="242.9" r="0.9" fill="#555"/>
</svg>
<div class="t" style="right:328.6px;top:3.15px;font-size:10px;line-height:11.49px;-webkit-text-stroke:0.15px #111;">0.35</div>
<div class="t" style="right:328.6px;top:63.15px;font-size:10px;line-height:11.49px;-webkit-text-stroke:0.15px #111;">0.25</div>
<div class="t" style="right:328.6px;top:123.65px;font-size:10px;line-height:11.49px;-webkit-text-stroke:0.15px #111;">0.15</div>
<div class="t" style="right:328.6px;top:183.65px;font-size:10px;line-height:11.49px;-webkit-text-stroke:0.15px #111;">0.05</div>
<div class="t" style="right:328.6px;top:214.65px;font-size:10px;line-height:11.49px;-webkit-text-stroke:0.15px #111;">0</div>
<div class="t" style="left:12.299999999999997px;width:40px;text-align:center;top:220.85px;font-size:10px;line-height:11.49px;-webkit-text-stroke:0.15px #111">0</div>
<div class="t" style="left:51.3px;width:40px;text-align:center;top:220.85px;font-size:10px;line-height:11.49px;-webkit-text-stroke:0.15px #111">0.1</div>
<div class="t" style="left:90.3px;width:40px;text-align:center;top:220.85px;font-size:10px;line-height:11.49px;-webkit-text-stroke:0.15px #111">0.2</div>
<div class="t" style="left:129.3px;width:40px;text-align:center;top:220.85px;font-size:10px;line-height:11.49px;-webkit-text-stroke:0.15px #111">0.3</div>
<div class="t" style="left:168.3px;width:40px;text-align:center;top:220.85px;font-size:10px;line-height:11.49px;-webkit-text-stroke:0.15px #111">0.4</div>
<div class="t" style="left:207.3px;width:40px;text-align:center;top:220.85px;font-size:10px;line-height:11.49px;-webkit-text-stroke:0.15px #111">0.5</div>
<div class="t" style="left:246.3px;width:40px;text-align:center;top:220.85px;font-size:10px;line-height:11.49px;-webkit-text-stroke:0.15px #111">0.6</div>
<div class="t" style="left:285.3px;width:40px;text-align:center;top:220.85px;font-size:10px;line-height:11.49px;-webkit-text-stroke:0.15px #111">0.7</div>
<div class="t" style="left:324.3px;width:40px;text-align:center;top:220.85px;font-size:10px;line-height:11.49px;-webkit-text-stroke:0.15px #111">0.8</div>
<div class="t" style="right:289.2px;top:19.71px;font-size:14.8px;line-height:17.01px;transform-origin:0 13.39px;transform:rotate(0.03deg) scaleY(1.04);-webkit-text-stroke:0.25px #111;">C</div>
<div class="t" style="right:289.2px;top:35.01px;font-size:14.8px;line-height:17.01px;transform-origin:0 13.39px;transform:rotate(0.03deg) scaleY(1.04);-webkit-text-stroke:0.25px #111;">N</div>
<div class="t" style="right:289.2px;top:50.81px;font-size:14.8px;line-height:17.01px;transform-origin:0 13.39px;transform:rotate(0.03deg) scaleY(1.04);-webkit-text-stroke:0.25px #111;">O</div>
<div class="t" style="right:289.2px;top:66.31px;font-size:14.8px;line-height:17.01px;transform-origin:0 13.39px;transform:rotate(0.03deg) scaleY(1.04);-webkit-text-stroke:0.25px #111;">Ne</div>
<div class="t" style="right:235.8px;top:19.71px;font-size:14.8px;line-height:17.01px;transform-origin:0 13.39px;transform:rotate(0.03deg) scaleY(1.04);-webkit-text-stroke:0.25px #111;">Mg</div>
<div class="t" style="right:235.8px;top:35.01px;font-size:14.8px;line-height:17.01px;transform-origin:0 13.39px;transform:rotate(0.03deg) scaleY(1.04);-webkit-text-stroke:0.25px #111;">Si</div>
<div class="t" style="right:235.8px;top:50.81px;font-size:14.8px;line-height:17.01px;transform-origin:0 13.39px;transform:rotate(0.03deg) scaleY(1.04);-webkit-text-stroke:0.25px #111;">S</div>
<div class="t" style="right:235.8px;top:66.31px;font-size:14.8px;line-height:17.01px;transform-origin:0 13.39px;transform:rotate(0.03deg) scaleY(1.04);-webkit-text-stroke:0.25px #111;">Fe</div>
<div class="t" style="left:159.0px;top:226.87px;font-size:15.5px;line-height:17.81px;transform-origin:0 14.03px;transform:rotate(0.03deg) scaleY(1.001);-webkit-text-stroke:0.2px #111;">r/R</div>
<div class="t" id="yl" style="left:0;top:0;width:40px;height:20px;transform-origin:0 0;transform:translate(0px,107px) rotate(-90deg)"><span style="position:absolute;left:-0.9px;top:-2.82px;font-size:13.5px;line-height:15.51px;-webkit-text-stroke:0.15px #222;">&kappa;</span><span style="position:absolute;left:6.7px;top:4.81px;font-size:9.6px;line-height:11.03px;-webkit-text-stroke:0.1px #222;">Z</span><span style="position:absolute;left:12.6px;top:10.38px;font-size:7.2px;line-height:8.27px;-webkit-text-stroke:0.4px #222;">i</span></div>
</body></html>
